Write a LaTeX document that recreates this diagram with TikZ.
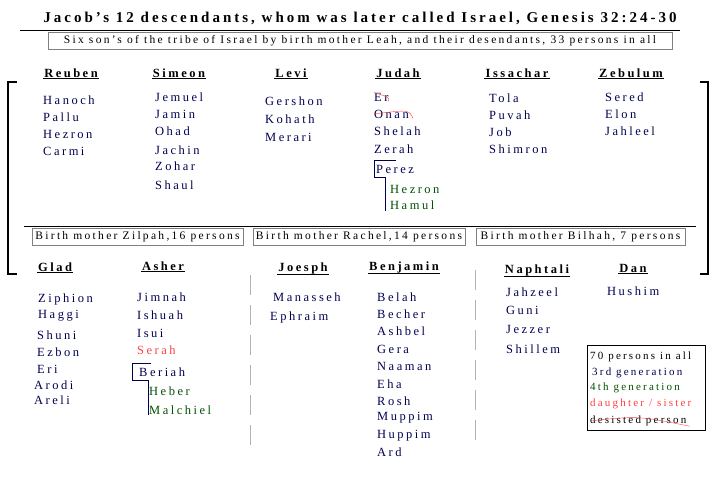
\documentclass[tikz,border=0pt]{standalone}
\usepackage{fontspec}
\setmainfont{Liberation Serif}[LetterSpace=20]
\usetikzlibrary{positioning}
\definecolor{navy}{HTML}{000050}
\definecolor{gen}{HTML}{005000}
\definecolor{dau}{HTML}{FF4040}
\begin{document}
\begin{tikzpicture}[x=1pt,y=-1pt,
    son/.style={font=\bfseries\fontsize{12.5}{13}\selectfont,inner sep=1pt},
    kid/.style={anchor=west,text=navy,font=\fontsize{12.5}{13}\selectfont,inner sep=0pt},
    grand/.style={kid,text=gen},
    mother/.style={draw=gray,thick,inner sep=2pt,font=\fontsize{11.5}{12}\selectfont,minimum height=17pt},
    sep/.style={gray!60,dash pattern=on 20pt off 10pt},
    legend/.style={kid,font=\fontsize{11}{12}\selectfont},
    strike/.style={dau,thin}]
    \useasboundingbox (0,0) rectangle (720,480);
    % heading
    \node (title) at (360,18) {\bfseries\fontsize{15}{16}\selectfont Jacob's 12 descendants, whom was later called Israel, Genesis 32:24-30};
    \draw (20,30) -- (680,30);
    \node (leah) [mother,minimum width=624pt] at (360,41) {Six son's of the tribe of Israel by birth mother Leah, and their desendants, 33 persons in all};
    % bracket
    \draw[very thick] (17,82) -- (8,82) -- (8,274) -- (17,274);
    \draw[very thick] (700,82) -- (708,82) -- (708,274) -- (700,274);
    % Leah's sons
    \foreach \n/\x/\t in {reu/71/Reuben,sim/179/Simeon,lev/291/Levi,jud/398/Judah,iss/517/Issachar,zeb/631/Zebulum}{
        \node (\n) [son] at (\x,73) {\t};
        \draw[very thick] (\n.south west) -- (\n.south east);
    }
    \foreach \t [count=\i] in {Hanoch,Pallu,Hezron,Carmi}
        \node (reu\i) [kid] at (43,83+17*\i) {\t};
    \foreach \t/\y [count=\i] in {Jemuel/97,Jamin/114,Ohad/131,Jachin/150,Zohar/166,Shaul/185}
        \node (sim\i) [kid] at (155,\y) {\t};
    \foreach \t [count=\i] in {Gershon,Kohath,Merari}
        \node (lev\i) [kid] at (265,83+18*\i) {\t};
    \foreach \t/\y [count=\i] in {Er/97,Onan/114,Shelah/131,Zerah/149}
        \node (jud\i) [kid] at (374,\y) {\t};
    \draw[strike] (jud1.north west) .. controls (jud1.east) .. (jud1.south east);
    \draw[strike] (jud2.west) .. controls (jud2.north east) .. ([xshift=4pt]jud2.south east);
    \node (perez) [kid] at (376,169) {Perez};
    \node (hezron) [grand] at (390,189) {Hezron};
    \node (hamul) [grand] at (390,205) {Hamul};
    \draw[navy] (396,160) -- (374,160) -- (374,177) -- (385,177) -- (385,211);
    \foreach \t [count=\i] in {Tola,Puvah,Job,Shimron}
        \node (iss\i) [kid] at (489,81+17*\i) {\t};
    \foreach \t [count=\i] in {Sered,Elon,Jahleel}
        \node (zeb\i) [kid] at (605,80+17*\i) {\t};
    % other mothers
    \draw (24,226) -- (696,226);
    \node (zil) [mother,minimum width=211pt] at (137.5,237) {Birth mother Zilpah,16 persons};
    \node (rac) [mother,minimum width=212pt] at (359,237) {Birth mother Rachel,14 persons};
    \node (bil) [mother,minimum width=209pt] at (580.5,237) {Birth mother Bilhah, 7 persons};
    \draw[sep] (250,275) -- (250,455);
    \draw[sep] (475,270) -- (475,440);
    \foreach \n/\x/\y/\t in {gla/55/267/Glad,ash/163/266/Asher,joe/303/268/Joesph,ben/404/267/Benjamin,nap/537/270/Naphtali,dan/633/268/Dan}{
        \node (\n) [son] at (\x,\y) {\t};
        \draw[very thick] (\n.south west) -- (\n.south east);
    }
    \foreach \t/\x/\y [count=\i] in {Ziphion/38/299,Haggi/38/316,Shuni/37/335,Ezbon/37/352,Eri/37/369,Arodi/34/385,Areli/34/400}
        \node (gla\i) [kid] at (\x,\y) {\t};
    \foreach \t/\y [count=\i] in {Jimnah/297,Ishuah/315,Isui/333}
        \node (ash\i) [kid] at (137,\y) {\t};
    \node (serah) [kid,text=dau] at (137,350) {Serah};
    \node (beriah) [kid] at (139,372) {Beriah};
    \node (heber) [grand] at (149,391) {Heber};
    \node (malchiel) [grand] at (149,410) {Malchiel};
    \draw[navy] (151,363) -- (132,363) -- (132,380) -- (148,380) -- (148,415);
    \node (manasseh) [kid] at (273,297) {Manasseh};
    \node (ephraim) [kid] at (270,317) {Ephraim};
    \foreach \t/\y [count=\i] in {Belah/297,Becher/314,Ashbel/331,Gera/349,Naaman/366,Eha/384,Rosh/401,Muppim/418,Huppim/436,Ard/452}
        \node (ben\i) [kid] at (377,\y) {\t};
    \foreach \t/\y [count=\i] in {Jahzeel/292,Guni/310,Jezzer/329,Shillem/349}
        \node (nap\i) [kid] at (506,\y) {\t};
    \node (hushim) [kid] at (607,291) {Hushim};
    % legend
    \draw[thick] (587,345) rectangle (705,430);
    \node (all) [legend,text=black] at (590,357) {70 persons in all};
    \node (third) [legend] at (592,373) {3rd generation};
    \node (fourth) [legend,text=gen] at (590,388) {4th generation};
    \node (daughter) [legend,text=dau] at (590,404) {daughter / sister};
    \node (desisted) [legend,text=black] at (590,421) {desisted person};
    \draw[strike] (desisted.west) .. controls (desisted.north) .. ([xshift=3pt]desisted.south east);
\end{tikzpicture}
\end{document}
